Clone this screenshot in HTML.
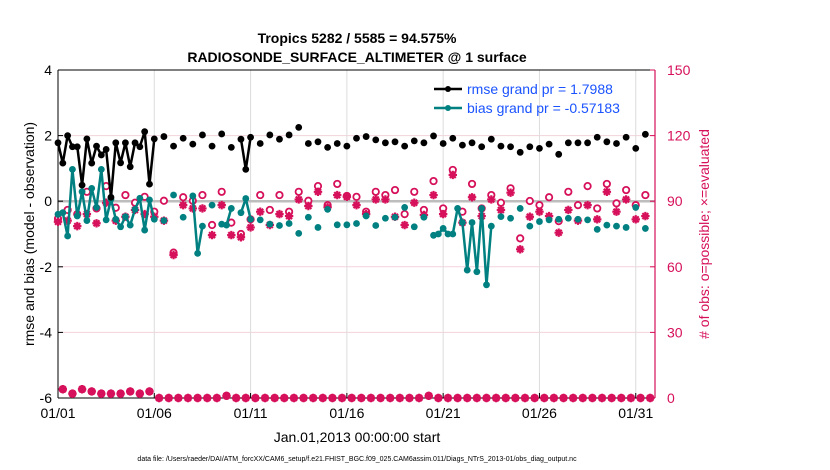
<!DOCTYPE html>
<html><head><meta charset="utf-8"><style>
html,body{margin:0;padding:0;background:#fff;}
svg{display:block;font-family:"Liberation Sans",Arial,sans-serif;}
</style></head><body>
<svg id="chart" width="830" height="470" viewBox="0 0 830 470" xmlns="http://www.w3.org/2000/svg">
<text x="357" y="43" text-anchor="middle" font-size="14" font-weight="bold">Tropics 5282 / 5585 = 94.575%</text>
<text x="357" y="62" text-anchor="middle" font-size="14" font-weight="bold">RADIOSONDE_SURFACE_ALTIMETER @ 1 surface</text>
<g id="grid"></g>
<g id="axes"></g>
<g id="marks"></g>
<g id="legend">
  <line x1="434" y1="89" x2="462" y2="89" stroke="#000" stroke-width="2.5"/>
  <circle cx="448" cy="89" r="3" fill="#000"/>
  <text x="467" y="94" font-size="14" fill="#1a53ff">rmse grand pr = 1.7988</text>
  <line x1="434" y1="108" x2="462" y2="108" stroke="#008080" stroke-width="2.5"/>
  <circle cx="448" cy="108" r="3" fill="#008080"/>
  <text x="467" y="113" font-size="14" fill="#1a53ff">bias grand pr = -0.57183</text>
</g>
<text transform="translate(34,234) rotate(-90)" text-anchor="middle" font-size="14">rmse and bias (model - observation)</text>
<text transform="translate(709,234) rotate(-90)" text-anchor="middle" font-size="14" fill="#d6105a"># of obs: o=possible; ×=evaluated</text>
<text x="357" y="442" text-anchor="middle" font-size="14">Jan.01,2013 00:00:00 start</text>
<text x="357" y="461" text-anchor="middle" font-size="7">data file: /Users/raeder/DAI/ATM_forcXX/CAM6_setup/f.e21.FHIST_BGC.f09_025.CAM6assim.011/Diags_NTrS_2013-01/obs_diag_output.nc</text>
</svg>
<script>
const xTickLabels = ["01/01","01/06","01/11","01/16","01/21","01/26","01/31"];
const xTickSlots = [0,20,40,60,80,100,120];
const yLeftTicks = [4,2,0,-2,-4,-6];
const yRightTicks = [0,30,60,90,120,150];

const rmseSlots = [0,1,2,3,4,5,6,7,8,9,10,11,12,13,14,15,16,17,18,19,20,22,24,26,28,30,32,34,36,38,39,40,42,44,46,48,50,52,54,56,58,60,62,64,66,68,70,72,74,76,78,80,82,84,86,88,90,92,94,96,98,100,102,104,106,108,110,112,114,116,118,120,122];
const rmseVals = [1.78,1.16,2.0,1.66,1.66,0.49,1.9,1.16,1.68,1.41,1.58,0.12,1.78,1.17,1.78,1.05,1.78,1.66,2.12,0.52,1.9,1.97,1.68,1.92,1.74,2.02,1.68,2.05,1.64,1.89,0.97,1.95,1.76,2.02,1.89,2.02,2.25,1.76,1.81,1.64,1.76,1.68,1.92,1.97,1.87,1.78,1.81,1.68,1.84,1.78,1.99,1.76,1.92,1.71,1.78,1.66,1.89,1.68,1.66,1.49,1.66,1.61,1.74,1.43,1.78,1.78,1.78,1.95,1.81,1.76,1.95,1.61,2.04];

const biasSlots = [0,1,2,3,4,5,6,7,8,9,10,11,12,13,14,15,16,17,18,19,20,22,24,26,28,29,30,32,34,35,36,38,39,40,42,44,46,48,50,52,54,56,58,60,62,64,66,68,70,72,74,76,78,79,80,81,82,83,84,85,86,87,88,89,90,92,94,96,98,100,102,104,106,108,110,112,114,116,118,120,122];
const biasVals = [-0.4,-0.35,-1.06,0.97,-0.45,0.29,-0.59,0.39,-0.19,0.97,-0.57,0.06,-0.55,-0.78,-0.47,-0.73,-0.25,0.09,-0.88,0.04,-0.55,-0.59,0.19,-0.49,0.16,-1.59,-0.76,-0.12,-0.7,-0.73,-0.22,-0.35,0.08,-0.55,-0.57,-0.7,-0.74,-0.68,-0.98,-0.49,-0.8,-0.25,-0.72,-0.72,-0.68,-0.45,-0.74,-0.52,-0.49,-0.19,-0.78,-0.49,-1.04,-1.0,-0.83,-1.0,-1.0,-0.22,-0.65,-2.1,-0.65,-2.15,-0.22,-2.55,-0.76,-0.47,-0.52,-0.22,-0.76,-0.62,-0.57,-0.55,-0.52,-0.55,-0.57,-0.86,-0.73,-0.76,-0.8,-0.19,-0.83];

const mainSlots = [0,2,4,6,8,10,12,14,16,18,20,22,24,26,28,30,32,34,36,38,40,42,44,46,48,50,52,54,56,58,60,62,64,66,68,70,72,74,76,78,80,82,84,86,88,90,92,94,96,98,100,102,104,106,108,110,112,114,116,118,120,122];
const possibleVals = [82,86,84.1,94.3,86.7,96.9,87,92.8,89.3,92,85.2,90.2,66.5,91.8,90.2,92.8,79.1,94.3,80.2,75,81.7,92.8,86,92.8,85.2,94.3,90.2,96.9,88.2,97.9,92.4,92,85.2,94.3,92.8,95.1,84.1,94.3,86,99.2,86.7,104.3,85.2,97.9,86.7,92.8,89.3,95.9,73,90.1,88.2,91.8,80.9,94.3,88.2,96.9,86.7,97.9,89,95.1,88.2,92.8];
const evaluatedVals = [80.6,81.1,78.6,84.1,79.9,89.3,81.1,82.9,86,84.1,82.9,81.1,65.4,88.2,86.7,86.7,74.5,88.2,74.5,73.5,78,85.2,79.1,84.1,83.2,90.8,87.8,94.3,87.2,92.8,92,88.2,84.1,90.8,90.8,82.9,79.1,89.3,83.7,92.8,84.1,102,80.2,91.8,83.2,90.8,86,93.9,68,82.9,85.2,83.2,75.6,86,81.1,88.2,81.7,94.3,85.2,90.8,81.7,83.2];
const offSlots = [1,3,5,7,9,11,13,15,17,19,21,23,25,27,29,31,33,35,37,39,41,43,45,47,49,51,53,55,57,59,61,63,65,67,69,71,73,75,77,79,81,83,85,87,89,91,93,95,97,99,101,103,105,107,109,111,113,115,117,119,121,123];
const offCounts = [4,2,4,3,2,2,2,3,2,3,0,0,0,0,0,0,0,1,0,0,0,0,0,0,0,0,0,0,0,0,0,0,0,0,0,0,0,0,1,0,0,0,0,0,0,0,0,0,0,0,0,0,0,0,0,0,0,0,0,0,0,0];

const X0=58,X1=655,Y0=70,Y1=398,NS=124;
const PINK="#d6105a", TEAL="#008080";
const xS = s => X0 + s*(X1-X0)/NS;
const yL = v => Y0 + (4-v)*(Y1-Y0)/10;
const yR = c => Y1 - c*(Y1-Y0)/150;
const NS_="http://www.w3.org/2000/svg";
function mk(tag, attrs, parent){const e=document.createElementNS(NS_,tag);for(const k in attrs)e.setAttribute(k,attrs[k]);parent.appendChild(e);return e;}
const grid=document.getElementById('grid'),axes=document.getElementById('axes'),marks=document.getElementById('marks');

yRightTicks.forEach(t=>{ if(t>0&&t<150){ const l=mk('line',{x1:X0,x2:X1,y1:yR(t),y2:yR(t),stroke:'#f2d3dc','stroke-width':1},grid);

 }});
xTickSlots.forEach(s=>{ if(s>0){ const l=mk('line',{x1:xS(s),x2:xS(s),y1:Y0,y2:Y1,stroke:'#dcdcdc','stroke-width':1},grid);

 }});
const zl=mk('line',{x1:X0,x2:X1,y1:yL(0),y2:yL(0),stroke:'#bdbdbd','stroke-width':2.5},grid);



mk('line',{x1:X0,x2:X1,y1:Y0,y2:Y0,stroke:'#000','stroke-width':1},axes);
mk('line',{x1:X0,x2:X1,y1:Y1,y2:Y1,stroke:'#000','stroke-width':1},axes);
mk('line',{x1:X0,x2:X0,y1:Y0,y2:Y1,stroke:'#000','stroke-width':1},axes);
mk('line',{x1:X1,x2:X1,y1:Y0,y2:Y1,stroke:PINK,'stroke-width':1.2},axes);
yLeftTicks.forEach(t=>{
  mk('line',{x1:X0,x2:X0+5,y1:yL(t),y2:yL(t),stroke:'#000'},axes);
  const tx=mk('text',{x:X0-6,y:yL(t)+5,'text-anchor':'end','font-size':14},axes);
  tx.textContent=t;
  
  
});
yRightTicks.forEach(t=>{
  mk('line',{x1:X1-5,x2:X1,y1:yR(t),y2:yR(t),stroke:PINK},axes);
  const tx=mk('text',{x:X1+12,y:yR(t)+5,'font-size':14,fill:PINK},axes);
  tx.textContent=t;
  
  
});
xTickSlots.forEach((s,i)=>{
  mk('line',{x1:xS(s),x2:xS(s),y1:Y1-5,y2:Y1,stroke:'#000'},axes);
  const tx=mk('text',{x:xS(s),y:Y1+20,'text-anchor':'middle','font-size':14},axes);
  tx.textContent=xTickLabels[i];
  
  
});

function series(slots, vals, color, name){
  let d='';
  slots.forEach((s,i)=>{ const cont = i>0 && slots[i-1]===s-1; d += (cont?'L':'M')+xS(s).toFixed(1)+' '+yL(vals[i]).toFixed(1)+' '; });
  const p=mk('path',{d:d,fill:'none',stroke:color,'stroke-width':2.5,'stroke-linejoin':'round'},marks);
  
  
  slots.forEach((s,i)=>{
    const c=mk('circle',{cx:xS(s),cy:yL(vals[i]),r:3.4,fill:color},marks);
    
    
  });
}
function star(x,y){
  const r=4.2,d=r*0.707;
  const p=mk('path',{d:`M${x-r} ${y}L${x+r} ${y}M${x} ${y-r}L${x} ${y+r}M${x-d} ${y-d}L${x+d} ${y+d}M${x-d} ${y+d}L${x+d} ${y-d}`,stroke:PINK,'stroke-width':2.2,fill:'none'},marks);
  
  
}
function ring(x,y){
  const c=mk('circle',{cx:x,cy:y,r:3.2,fill:'#fff',stroke:PINK,'stroke-width':1.8},marks);
  
  
}
mainSlots.forEach((s,i)=>{ ring(xS(s),yR(possibleVals[i])); });
offSlots.forEach((s,i)=>{ ring(xS(s),yR(offCounts[i])); });
mainSlots.forEach((s,i)=>{ star(xS(s),yR(evaluatedVals[i])); });
offSlots.forEach((s,i)=>{ star(xS(s),yR(offCounts[i])); });
series(biasSlots,biasVals,TEAL,'bias');
series(rmseSlots,rmseVals,'#000','rmse');
</script>
</body></html>
